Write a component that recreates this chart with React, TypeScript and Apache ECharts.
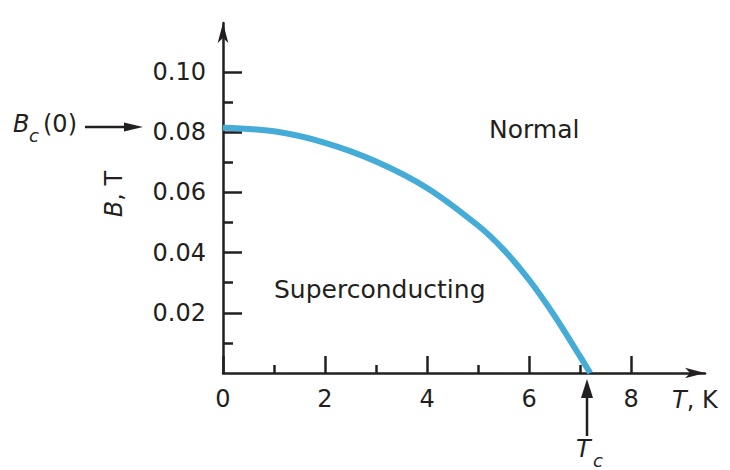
import React, { useEffect, useRef } from "react";
import * as echarts from "echarts";

const temperatures = [0, 1, 2, 3, 4, 5, 5.5, 6, 6.5, 7, 7.2];
const fieldB = [0.0815, 0.0803, 0.0765, 0.0703, 0.0615, 0.049, 0.041, 0.031, 0.019, 0.0055, 0];
const xMajorTicks = [0, 2, 4, 6, 8];
const xMinorTicks = [1, 3, 5, 7];
const yMajorTicks = [0.02, 0.04, 0.06, 0.08, 0.1];
const yMinorTicks = [0.01, 0.03, 0.05, 0.07, 0.09];

const INK = "#231f20";
const FONT = "DejaVu Sans";

export default function App() {
  const ref = useRef<HTMLDivElement>(null);
  useEffect(() => {
    if (!ref.current) return;
    const chart = echarts.init(ref.current, null, { renderer: "svg" });
    const xBase = { type: "value", min: 0, max: 9.45, gridIndex: 0, position: "bottom", splitLine: { show: false } };
    const yBase = { type: "value", min: 0, max: 0.1163, gridIndex: 0, position: "left", splitLine: { show: false } };
    chart.setOption({
      animation: false,
      backgroundColor: "#ffffff",
      grid: { left: 223, right: 25, top: 23, bottom: 97, containLabel: false },
      xAxis: [
        {
          ...xBase,
          axisLine: { show: true, onZero: false, symbol: ["none", "arrow"], symbolSize: [8, 20], lineStyle: { color: INK, width: 2.5 } },
          axisTick: { show: true, inside: true, length: 17, customValues: xMajorTicks, lineStyle: { color: INK, width: 2.5 } },
          axisLabel: { show: true, customValues: xMajorTicks, margin: 14, color: INK, fontFamily: FONT, fontSize: 24 },
        },
        {
          ...xBase,
          axisLine: { show: false, onZero: false },
          axisTick: { show: true, inside: true, length: 8, customValues: xMinorTicks, lineStyle: { color: INK, width: 2.5 } },
          axisLabel: { show: false },
        },
      ],
      yAxis: [
        {
          ...yBase,
          axisLine: { show: true, onZero: false, symbol: ["none", "arrow"], symbolSize: [8, 20], lineStyle: { color: INK, width: 2.5 } },
          axisTick: { show: true, inside: true, length: 19, customValues: yMajorTicks, lineStyle: { color: INK, width: 2.5 } },
          axisLabel: {
            show: true,
            customValues: yMajorTicks,
            margin: 17,
            color: INK,
            fontFamily: FONT,
            fontSize: 24,
            formatter: (v: number) => v.toFixed(2),
          },
        },
        {
          ...yBase,
          axisLine: { show: false, onZero: false },
          axisTick: { show: true, inside: true, length: 10, customValues: yMinorTicks, lineStyle: { color: INK, width: 2.5 } },
          axisLabel: { show: false },
        },
      ],
      series: [
        {
          type: "line",
          xAxisIndex: 0,
          yAxisIndex: 0,
          data: temperatures.map((t, i) => [t, fieldB[i]]),
          symbol: "none",
          smooth: 0.35,
          lineStyle: { color: "#44acd6", width: 6 },
          z: 3,
        },
      ],
      graphic: [
        { type: "text", x: 274, y: 289, style: { text: "Superconducting", fill: INK, font: `25px "${FONT}"`, align: "left", verticalAlign: "middle" } },
        { type: "text", x: 489, y: 129, style: { text: "Normal", fill: INK, font: `25px "${FONT}"`, align: "left", verticalAlign: "middle" } },
        {
          type: "text",
          x: 672,
          y: 400,
          style: {
            text: "{i|T}, K",
            fill: INK,
            font: `24px "${FONT}"`,
            align: "left",
            verticalAlign: "middle",
            rich: { i: { fontStyle: "italic", fontFamily: FONT, fontSize: 24, fill: INK } },
          },
        },
        {
          type: "text",
          x: 114,
          y: 194,
          rotation: Math.PI / 2,
          style: {
            text: "{i|B}, T",
            fill: INK,
            font: `24px "${FONT}"`,
            align: "center",
            verticalAlign: "middle",
            rich: { i: { fontStyle: "italic", fontFamily: FONT, fontSize: 24, fill: INK } },
          },
        },
        { type: "text", x: 13, y: 124, style: { text: "B", fill: INK, font: `italic 24px "${FONT}"`, align: "left", verticalAlign: "middle" } },
        { type: "text", x: 29, y: 135, style: { text: "c", fill: INK, font: `italic 18px "${FONT}"`, align: "left", verticalAlign: "middle" } },
        { type: "text", x: 43, y: 124, style: { text: "(0)", fill: INK, font: `24px "${FONT}"`, align: "left", verticalAlign: "middle" } },
        { type: "line", shape: { x1: 85, y1: 127, x2: 130, y2: 127 }, style: { stroke: INK, lineWidth: 2.5 } },
        { type: "polygon", shape: { points: [[143, 127], [124, 122.5], [124, 131.5]] }, style: { fill: INK } },
        { type: "line", shape: { x1: 587, y1: 436, x2: 587, y2: 392 }, style: { stroke: INK, lineWidth: 2.5 } },
        { type: "polygon", shape: { points: [[587, 379], [581, 398], [593, 398]] }, style: { fill: INK } },
        { type: "text", x: 576, y: 449, style: { text: "T", fill: INK, font: `italic 24px "${FONT}"`, align: "left", verticalAlign: "middle" } },
        { type: "text", x: 593, y: 460, style: { text: "c", fill: INK, font: `italic 18px "${FONT}"`, align: "left", verticalAlign: "middle" } },
      ],
    });
    return () => chart.dispose();
  }, []);
  return <div ref={ref} style={{ width: 730, height: 470, position: "absolute", left: 0, top: 0 }} />;
}
